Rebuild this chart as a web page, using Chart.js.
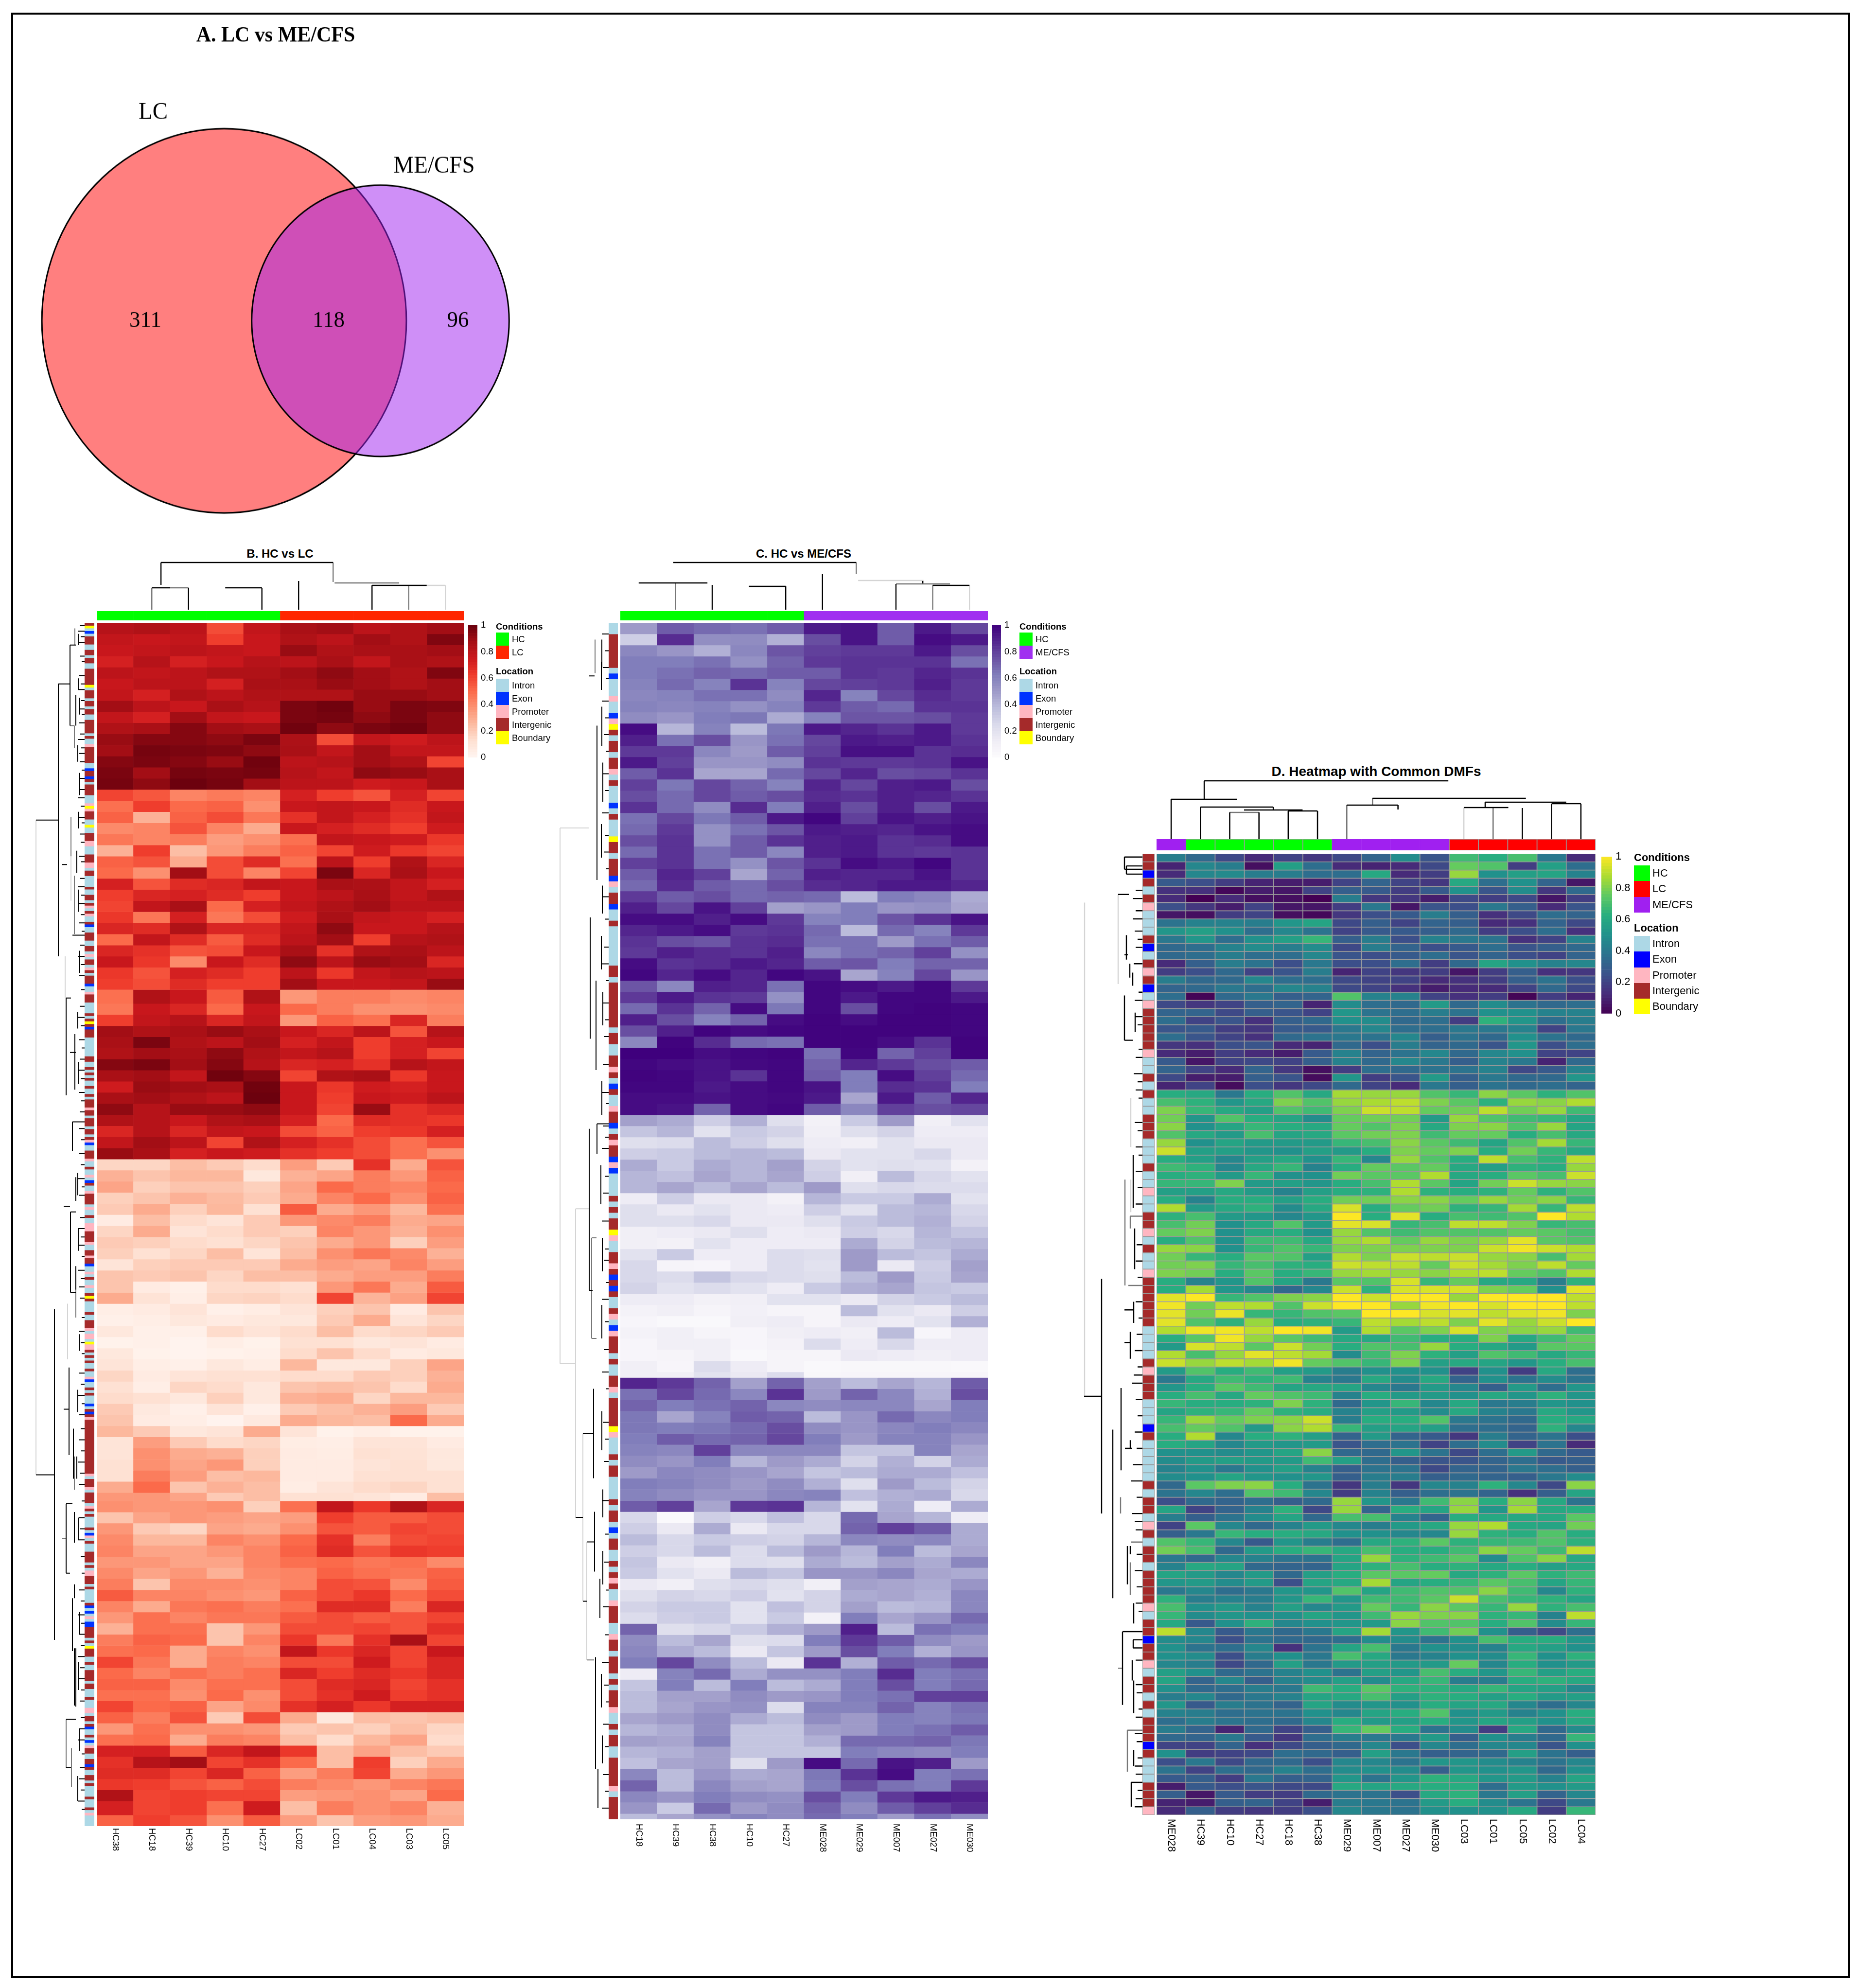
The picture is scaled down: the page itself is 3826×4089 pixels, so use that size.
<!DOCTYPE html>
<html><head><meta charset="utf-8">
<script src="https://cdn.jsdelivr.net/npm/chart.js@4/dist/chart.umd.min.js"></script>
<style>html,body{margin:0;background:#fff}body{position:relative;width:3826px;height:4089px;overflow:hidden;filter:blur(.7px)}
.t{position:absolute;white-space:nowrap;line-height:1;transform:translateY(-50%);color:#000}.s{position:absolute}canvas{position:absolute}</style>
</head><body>
<script>
// ---------- sample names ----------
const samplesB=['HC38','HC18','HC39','HC10','HC27','LC02','LC01','LC04','LC03','LC05'];
const samplesC=['HC18','HC39','HC38','HC10','HC27','ME028','ME029','ME007','ME027','ME030'];
const samplesD=['ME028','HC39','HC10','HC27','HC18','HC38','ME029','ME007','ME027','ME030','LC03','LC01','LC05','LC02','LC04'];
const colorbarTicks=[0,0.2,0.4,0.6,0.8,1];
// ---------- venn ----------
const vennNames=['LC','ME/CFS'];
const vennCounts=[311,118,96];
const vennCenterX=[461,782.5];
const vennCenterY=[626,626];
// ---------- panel B values (percent methylation, blocks of rows) ----------
const valuesB=[
[82,84,80,58,78,86,88,80,84,88],[78,76,78,62,76,84,80,88,84,95],[76,78,80,78,76,90,84,86,86,88],[72,82,72,76,82,80,86,78,86,84],
[80,78,80,84,84,88,92,88,84,95],[76,80,80,72,86,86,90,88,84,88],[78,72,84,80,84,84,84,90,90,88],[88,80,76,86,82,96,98,90,96,95],
[78,72,88,78,76,96,97,92,96,92],[84,86,94,88,86,98,92,96,98,92],[90,94,94,92,96,85,58,78,74,80],[88,97,96,95,92,86,78,88,78,78],
[94,96,94,90,98,80,82,88,84,60],[96,88,97,96,97,82,78,92,90,86],[97,92,99,97,88,80,80,74,76,86],
[60,55,42,45,42,72,62,56,72,60],[48,62,50,52,38,76,78,76,68,76],[52,28,52,58,46,66,78,72,66,78],[40,42,56,42,30,76,72,68,62,74],
[46,42,44,34,38,48,78,76,74,64],[28,62,24,36,44,52,60,74,64,60],[52,56,30,58,68,48,80,62,84,70],[50,38,88,58,42,60,96,70,86,76],
[72,56,68,70,78,76,86,85,78,72],[62,70,72,68,62,76,80,86,78,84],[60,78,86,50,72,78,84,88,80,80],[64,46,72,46,58,74,86,78,76,72],
[70,68,84,70,70,78,92,76,76,82],[50,78,68,54,68,80,88,62,82,84],[70,66,56,58,76,86,66,84,86,80],[76,64,40,76,68,92,80,90,88,70],
[64,56,72,68,62,80,64,78,82,80],[62,58,68,62,62,88,76,76,78,90],
[48,84,76,54,84,36,44,44,40,42],[46,76,70,50,76,50,44,38,38,40],[62,78,82,70,78,36,52,48,70,44],
[88,84,86,90,86,76,70,80,56,82],[86,96,84,80,88,72,78,62,72,76],[84,88,86,92,84,78,82,62,72,60],[94,96,88,94,82,70,72,66,82,78],
[86,88,78,98,94,60,84,86,64,76],[74,90,88,86,98,76,64,74,72,76],[86,88,84,80,99,76,62,76,74,80],[92,82,90,90,92,76,60,90,66,70],
[84,82,76,84,86,72,50,68,66,64],[70,82,70,78,76,58,52,62,64,72],[78,88,80,60,84,72,66,58,48,56],[90,86,72,76,74,66,62,58,48,38],
[16,16,24,20,14,34,20,66,30,56],[28,22,26,26,8,28,32,44,36,52],[32,18,22,22,18,32,50,44,42,50],[18,22,28,25,20,30,42,50,38,52],
[20,30,18,26,12,54,30,36,26,48],[6,24,14,10,20,36,40,44,30,32],[16,30,10,14,20,18,42,36,28,38],[20,18,14,12,16,22,30,36,18,34],
[18,12,16,24,10,24,38,46,40,28],[10,18,20,20,20,30,34,32,42,34],[22,20,22,16,24,24,30,34,34,44],[22,6,3,14,14,12,36,46,30,54],
[30,11,4,16,17,14,60,27,33,60],
[4,6,10,3,5,10,18,22,6,22],[3,4,8,6,8,8,20,30,10,16],[8,3,3,14,10,14,24,14,16,20],[2,3,1,4,2,12,12,8,10,6],
[8,2,1,2,3,14,22,14,6,8],[10,4,3,8,5,26,8,8,18,32],[16,6,10,12,12,14,14,20,18,28],[12,4,16,14,8,22,24,22,14,30],
[14,12,8,18,8,28,30,16,26,26],[20,7,3,10,3,20,24,28,34,20],[22,6,4,1,7,30,26,24,50,30],
[26,20,8,10,30,10,2,4,2,2],[10,34,20,14,16,5,4,10,10,6],[10,38,30,28,18,6,5,12,11,8],[12,38,32,36,18,6,6,10,12,8],
[12,44,34,24,26,6,6,12,12,12],[30,50,22,28,24,5,10,14,16,12],[36,36,32,20,24,12,12,10,6,24],
[38,36,36,38,18,48,78,64,84,70],[22,32,36,34,32,34,62,54,54,58],[36,20,16,32,30,38,56,54,60,58],[40,26,26,42,38,50,66,44,58,60],
[42,32,32,36,42,52,68,56,64,62],[36,36,32,32,42,48,50,46,48,40],[40,32,36,28,40,42,52,48,46,52],[44,22,40,40,38,42,58,56,40,54],
[54,42,42,38,36,52,58,64,50,58],[42,30,46,48,44,48,68,68,44,70],[36,48,42,46,46,54,58,54,56,60],[28,48,48,22,36,58,58,60,56,66],
[44,52,50,22,42,64,46,66,86,60],[48,50,30,42,38,78,64,70,60,76],[60,46,30,44,42,58,58,74,60,70],[50,42,48,44,48,70,62,68,64,70],
[52,52,40,48,48,58,68,70,60,66],[48,48,38,50,38,58,66,74,62,66],[60,50,52,32,40,66,72,64,72,72],
[52,44,56,20,58,30,8,24,22,24],[36,48,38,38,36,20,22,18,24,16],[48,50,30,44,42,24,14,26,32,14],[72,72,54,70,78,64,24,32,24,20],
[66,82,88,60,66,50,24,62,18,30],[68,68,60,70,52,34,44,60,30,36],[64,62,56,52,58,44,40,36,42,46],[84,60,62,60,60,34,36,38,32,50],
[72,60,62,48,74,24,44,38,42,28],[52,62,56,38,54,34,22,34,36,30]];
const spanOverridesB={33:5,78:3,106:5};
// ---------- panel C values ----------
const valuesC=[
[50,72,68,66,72,92,94,72,92,78],[30,86,55,56,42,76,94,72,96,92],[58,52,42,58,74,80,82,82,92,76],[62,62,66,54,70,82,84,84,84,66],
[62,66,70,68,72,72,84,82,88,84],[60,68,60,84,60,78,80,82,90,82],[58,60,66,66,56,88,60,78,86,82],[60,58,60,54,60,82,72,68,84,84],
[56,52,62,64,44,60,74,74,76,82],[96,40,60,38,64,92,88,84,92,82],[90,66,76,52,66,78,92,90,92,84],[82,82,58,50,72,80,95,95,84,86],
[92,80,52,52,56,84,82,82,84,94],[72,84,46,46,68,78,88,76,78,84],[80,64,78,70,60,88,78,90,92,76],[76,68,78,72,76,86,84,90,88,84],
[84,68,56,86,62,90,76,90,76,92],[66,78,64,72,92,98,80,94,90,94],[68,82,54,66,74,92,90,88,94,96],[76,84,54,72,84,90,92,84,86,96],
[68,84,66,72,58,90,92,84,82,84],[80,84,66,54,74,84,96,92,98,84],[72,88,80,46,70,90,88,88,94,84],[68,86,72,68,76,86,88,92,92,88],
[82,72,76,68,70,68,38,62,58,44],[90,78,94,80,48,52,62,52,54,46],[96,96,90,96,82,60,62,74,84,94],[88,92,96,82,84,68,38,68,60,82],
[84,76,74,84,86,66,66,50,66,72],[82,90,86,84,90,58,66,70,80,54],[96,84,86,92,88,72,74,62,70,70],[98,88,96,88,98,94,46,60,78,52],
[74,58,90,88,66,98,96,92,98,82],[82,92,84,82,54,98,92,98,98,92],[68,84,70,96,64,98,76,98,99,98],[90,76,60,70,96,99,96,99,99,98],
[76,90,99,96,98,99,99,99,99,98],[58,99,86,68,66,99,99,96,84,99],[100,100,96,98,99,66,98,70,80,99],[98,96,94,97,98,70,88,82,76,72],
[99,98,94,84,98,72,62,96,80,68],[98,98,92,96,98,94,62,86,84,62],[96,96,94,96,97,92,46,92,72,88],[96,94,70,96,98,72,58,80,76,78],
[48,44,30,42,22,9,32,50,11,20],[34,40,20,32,28,11,22,28,13,13],[22,24,38,30,22,13,11,20,15,15],[30,32,38,40,38,15,20,20,26,15],
[44,32,44,40,48,28,20,22,20,9],[40,36,46,40,46,30,11,38,26,20],[40,46,38,46,38,50,22,26,24,24],[13,30,15,15,9,40,32,32,44,20],
[22,15,20,15,13,30,20,38,40,26],[22,22,26,15,15,22,32,38,42,28],[11,13,15,22,13,15,30,26,40,34],[11,9,20,13,13,13,44,28,38,40],
[20,32,13,13,24,22,50,38,34,44],[26,6,5,13,24,20,50,15,30,48],[26,24,34,26,24,22,38,50,32,46],[28,20,24,20,13,32,42,46,34,32],
[13,13,9,11,20,20,15,28,32,38],[8,11,6,10,6,6,38,20,15,30],[5,3,3,11,13,6,15,13,20,42],[8,11,6,5,11,13,11,38,5,13],
[5,11,11,5,8,24,13,26,13,13],[5,6,11,3,6,6,15,13,11,13],[11,5,24,13,6,3,4,4,4,3],[11,11,20,15,24,4,5,5,5,5],
[88,82,70,48,70,48,38,46,40,72],[66,78,68,58,84,50,70,58,42,76],[70,62,66,70,58,56,58,58,46,62],[64,46,60,72,70,38,52,68,58,62],
[64,62,64,68,76,56,52,58,62,58],[62,72,68,70,78,62,50,60,60,52],[60,58,80,58,58,58,34,34,60,46],[56,52,62,40,50,44,28,42,28,44],
[50,58,56,52,46,34,38,44,44,36],[62,60,56,50,56,42,22,50,38,28],[60,56,52,52,58,60,36,42,44,26],
[72,80,46,82,84,40,20,44,13,44],[26,2,30,26,36,26,68,46,40,13],[30,15,44,15,26,26,70,80,72,44],[38,26,32,30,28,40,58,56,58,44],
[30,26,38,24,38,50,40,62,38,46],[34,15,11,24,22,44,38,48,44,58],[32,20,15,38,34,52,52,58,46,44],[15,11,22,26,22,11,48,46,44,52],
[22,28,26,30,20,28,44,46,42,58],[28,32,32,20,36,28,48,38,40,58],[24,30,32,20,32,9,62,46,52,68],[70,22,26,32,42,50,90,38,66,62],
[56,38,46,22,24,62,82,72,56,50],[58,44,38,15,34,50,76,62,42,52],[62,78,56,38,15,84,42,72,68,76],[13,60,68,44,54,54,62,86,62,66],
[34,62,38,62,38,44,62,76,62,68],[38,48,48,56,50,52,62,66,80,80],[38,46,52,54,24,60,60,70,60,66],[46,50,56,44,38,56,50,62,60,64],
[40,44,56,34,34,48,50,62,66,72],[48,46,60,34,34,42,68,68,70,64],[40,42,48,34,34,34,62,58,56,62],[36,46,48,22,50,96,68,94,90,50],
[58,38,52,44,46,64,84,96,62,66],[70,38,58,48,46,62,76,66,62,82],[58,52,62,56,54,76,62,82,92,90],[52,32,68,50,56,70,56,72,80,86],
[38,46,54,60,56,68,62,50,66,56]];
const spanOverridesC={67:1,107:1};
// ---------- panel D values (118 common DMFs) ----------
const valuesD=[
[42,34,22,12,20,16,22,32,48,26,68,62,70,40,12],[10,46,42,4,56,36,12,10,12,22,76,72,18,56,36],[12,46,47,42,42,36,36,60,12,18,84,50,56,58,44],
[28,24,18,10,8,8,20,32,20,16,60,36,50,32,6],[14,14,2,8,6,20,30,28,18,28,50,26,48,16,34],[12,0,12,4,4,0,42,16,16,8,22,18,22,6,18],
[24,16,8,20,6,6,18,40,6,26,24,40,30,12,26],[6,4,18,20,4,2,16,24,28,42,30,14,22,36,32],[38,44,44,42,52,58,22,30,20,32,30,12,14,32,22],
[52,56,50,36,46,38,20,28,28,30,34,18,24,36,14],[40,52,36,50,56,66,30,42,24,44,40,38,14,20,44],[34,36,44,48,42,48,22,42,32,24,28,36,26,30,34],
[34,36,42,36,36,46,26,24,28,36,26,32,24,20,32],[12,30,42,38,24,40,24,24,36,18,34,58,50,44,46],[18,24,34,20,26,42,10,20,16,18,6,18,30,14,16],
[42,34,34,46,36,36,22,20,20,12,14,18,30,38,24],[32,34,40,36,46,44,22,20,14,8,12,12,20,34,22],[36,1,34,40,30,32,72,44,44,20,14,18,1,18,10],
[22,16,20,30,32,10,48,36,34,54,34,48,38,34,36],[32,32,22,30,26,20,52,38,36,42,38,50,50,44,44],[36,20,26,14,30,34,50,48,34,36,18,64,52,36,42],
[26,28,18,16,28,28,40,46,36,36,40,40,44,20,40],[36,26,20,14,34,38,40,38,46,30,38,34,50,38,34],[16,14,24,26,12,10,34,24,42,32,34,26,52,24,36],
[12,8,18,12,8,28,44,32,38,46,34,46,50,20,20],[28,6,20,22,20,30,44,34,46,40,30,44,40,10,34],[32,20,12,32,16,4,18,36,34,38,38,44,22,28,44],
[22,8,8,30,26,3,52,18,26,54,30,40,34,34,52],[10,20,3,24,16,22,34,20,12,40,30,38,34,36,32],[62,60,40,62,72,60,86,84,84,72,66,82,74,64,72],
[70,64,52,60,80,72,84,87,90,80,74,64,84,82,88],[80,66,60,56,72,68,80,92,90,76,78,90,78,84,68],[78,52,72,62,58,48,76,78,78,54,84,72,68,66,58],
[82,50,58,66,62,60,76,72,80,60,80,82,72,84,58],[72,60,54,70,58,60,74,78,80,68,76,76,62,70,60],[84,50,58,54,54,54,66,70,82,74,68,58,72,86,66],
[92,56,56,52,50,56,54,62,80,76,80,62,78,66,60],[62,56,46,56,60,50,66,46,84,72,62,90,70,64,90],[68,64,46,60,66,44,62,76,74,76,60,56,64,62,84],
[62,64,54,66,50,50,78,74,74,88,60,62,74,70,92],[66,66,80,54,56,52,62,70,88,74,58,78,92,84,82],[56,56,60,54,44,56,62,64,88,64,62,64,76,64,72],
[62,44,62,62,56,62,78,78,82,82,76,84,78,82,66],[88,54,60,64,48,60,94,62,76,78,64,66,86,66,90],[64,70,54,52,46,52,100,62,96,62,70,68,72,100,88],
[70,78,50,60,72,54,96,94,66,70,90,90,80,66,70],[76,80,50,60,62,50,84,72,68,72,72,72,76,74,70],[62,72,50,68,68,60,84,88,76,84,80,84,96,74,72],
[84,82,50,66,72,66,80,80,80,80,80,92,98,92,88],[78,66,62,74,72,56,88,80,92,90,92,84,82,70,86],[78,80,66,70,64,62,92,90,90,76,92,86,80,90,76],
[80,78,62,74,62,66,84,86,84,82,88,90,76,72,88],[62,44,52,72,58,40,74,72,94,66,76,60,60,42,64],[62,86,52,46,34,46,92,64,94,94,94,80,76,50,96],
[96,100,66,72,80,82,100,92,100,100,84,100,100,100,90],[98,78,90,88,72,92,100,100,84,98,100,94,100,100,90],[96,78,97,66,66,72,74,100,100,94,96,90,95,98,80],
[96,72,64,84,62,64,66,90,86,90,80,96,84,92,100],[88,98,98,90,100,98,54,88,74,80,94,80,82,84,68],[62,74,98,84,74,68,60,60,68,62,62,80,60,68,76],
[54,94,90,74,92,78,62,72,70,84,62,60,54,74,74],[88,70,84,96,90,86,48,68,80,64,56,72,68,60,66],[92,84,90,86,98,76,72,66,80,56,60,58,52,62,70],
[54,72,62,68,56,54,42,50,50,50,20,50,18,60,36],[40,60,68,64,68,44,40,60,48,60,32,50,38,48,38],[52,62,74,68,58,60,58,46,40,54,46,30,54,36,52],
[62,70,60,76,72,68,44,62,54,54,50,60,52,64,52],[66,62,62,64,80,64,34,52,66,46,60,40,42,52,50],[58,64,66,76,64,62,44,56,54,48,60,44,40,60,52],
[66,84,76,80,82,92,42,62,62,72,40,38,34,62,60],[70,76,72,54,82,88,66,56,58,56,36,36,32,64,46],[62,88,46,62,64,56,32,54,32,28,16,42,32,38,24],
[62,58,46,54,52,54,26,36,38,20,36,48,20,38,12],[50,50,48,52,58,82,34,34,52,38,22,36,54,34,28],[48,54,56,54,54,68,56,36,30,26,26,32,36,28,30],
[44,50,40,50,56,44,30,38,38,22,32,32,40,36,30],[48,50,58,52,50,52,30,42,42,30,34,32,30,40,48],[34,74,80,82,62,38,16,42,16,46,44,64,46,22,82],
[38,46,36,72,68,46,18,44,30,36,38,32,14,30,58],[24,34,32,36,30,34,84,52,40,68,82,62,82,60,38],[58,20,32,44,64,22,84,32,62,58,84,52,86,60,62],
[42,30,38,48,58,34,70,70,44,32,62,60,60,60,74],[20,74,46,34,44,54,46,42,54,60,84,88,60,58,78],[30,40,66,62,62,60,50,50,46,46,84,64,62,72,62],
[72,66,46,28,52,42,36,60,64,74,64,66,68,72,64],[78,70,34,54,62,66,60,70,62,62,68,82,76,68,90],[40,34,46,44,38,38,58,84,64,68,74,48,72,82,60],
[44,60,58,34,32,32,58,64,70,62,64,60,62,56,60],[58,54,46,54,34,56,62,74,74,76,60,64,74,64,68],[52,54,48,54,24,58,60,86,58,62,66,74,70,58,66],
[40,46,36,40,52,52,72,58,68,72,72,82,68,46,64],[64,42,44,42,52,66,52,68,68,74,92,70,66,64,58],[70,50,54,44,56,46,54,76,66,82,74,66,84,64,70],
[66,48,52,50,50,58,52,68,84,80,82,64,66,44,90],[60,28,50,64,46,50,52,54,82,72,72,62,72,48,66],[90,46,28,40,34,40,58,86,52,68,78,50,30,22,36],
[48,46,24,38,34,34,36,48,48,38,50,70,62,62,52],[50,38,36,46,14,38,58,70,40,50,48,44,60,56,50],[50,48,24,42,50,40,70,60,40,44,50,48,66,50,64],
[46,42,22,34,56,40,54,56,54,54,76,46,62,50,54],[56,50,34,38,44,50,38,56,52,70,62,52,66,56,62],[58,32,46,30,44,48,56,48,60,66,42,42,62,64,60],
[50,34,36,42,40,68,62,74,64,64,60,66,58,56,46],[42,46,34,40,44,58,60,70,56,64,62,56,62,54,56],[52,28,42,38,32,58,48,52,50,62,58,60,46,36,46],
[44,42,36,38,38,50,46,58,62,72,50,54,44,50,62],[36,42,38,36,34,46,62,54,56,62,52,58,56,50,60],[42,32,10,34,20,30,66,76,62,38,48,18,60,34,48],
[34,32,40,28,16,36,42,40,40,54,30,50,42,34,66],[20,20,32,14,22,30,34,46,24,46,36,46,46,26,50],[50,18,20,22,36,34,30,56,40,30,32,34,56,38,30],
[24,40,22,34,34,24,46,46,38,52,52,48,44,38,46],[38,20,36,34,44,36,48,50,48,30,52,50,52,34,50],[28,30,18,40,30,32,52,38,52,64,60,52,54,44,58],
[8,28,24,26,22,22,60,58,60,62,62,36,54,50,54],[30,6,28,18,18,34,38,38,24,60,64,40,56,32,46],[10,8,30,32,20,8,42,40,38,54,62,48,38,22,40],
[12,30,18,16,18,24,46,40,38,50,50,50,60,18,66]];
// ---------- annotations: I intron, E exon, P promoter, G intergenic, B boundary; runs of DMF rows ----------
const locRunsB="G1 B1 I1 E1 I1 G3 I2 G2 I1 G2 I2 G6 B1 I1 G3 I1 G2 I1 G2 I2 G5 I1 G1 I2 P1 G6 I2 E1 G2 E1 G1 I1 G4 I3 P1 B1 P1 G3 I2 B1 I2 G3 P2 I3 G3 P2 I1 G2 I4 G1 I2 G2 I1 G1 P1 I1 G1 P1 I2 G1 E1 I2 G3 I2 G2 I1 P1 I1 G2 I1 P1 G1 I1 G3 E1 I2 P1 G3 I2 I2 G1 I1 G1 B1 G1 E1 G3 I7 G2 I2 G1 I1 G1 I1 G1 I2 G1 I2 G1 I1 G3 P1 G2 I1 G3 I1 G2 I1 G1 P1 E1 I2 G3 P1 I2 G1 I2 P1 I1 E1 G1 I2 P1 G4 I1 P1 I2 G1 I2 P3 G4 P1 I2 G2 P1 G2 E1 I2 P1 I1 G1 I2 P1 I1 I1 G1 B1 G1 I4 G1 I2 G3 P1 I1 P2 I1 B1 P2 G1 I1 G1 I1 G1 I2 G1 I2 P1 E1 I2 G1 I1 G1 I3 E1 I1 G1 E1 G1 P1 G20 P1 I1 G3 P1 I1 G4 I1 P1 G1 I1 G1 I4 G1 I1 E1 P1 I1 G1 I3 G4 I1 G1 I1 P2 G3 I1 G1 I5 G1 E1 I1 E1 I1 P1 I1 E2 G4 I1 G1 I1 B1 G3 I2 G1 I2 G4 I1 G2 I3 G1 I3 P2 I1 G2 I1 G1 E1 I2 G1 I1 E1 I1 P1 G2 I2 G2 E1 G1 I2 G2 I1 G1 I4 G1 I3 G1 I1 P1 I4".split(' ');
const locRunsC="I2 G6 I1 E1 I3 P1 I2 E1 P1 B1 G1 I1 G2 I1 G2 P1 I1 G1 I3 E1 I1 G1 I3 B1 G2 I1 G3 E1 P1 I1 G2 E1 I2 G1 I7 G2 I1 G8 I1 G2 I2 G2 P1 G1 I1 E1 G1 I2 P1 G2 E1 I1 G1 P1 G2 E1 P1 E1 I4 G1 I1 G1 I1 G2 B1 P1 I2 G2 P1 G1 E1 G1 E1 G1 I2 G1 P1 I1 E1 P1 G3 I1 G1 I2 G2 P1 I1 G5 B1 P1 I3 G1 I1 G2 I4 G1 I1 G2 I1 E1 I1 G2 I2 G1 I1 G1 P1 G1 I2 P1 G3 I2 P1 G2 I1 G3 I1 G1 I1 G3 P1 I2 G1 I1 G2 I2 G5 P1 I1 G4".split(' ');
const locD="G G E G I G P I I I G E I G P G E I P G G G G G P I I G I G I I G G G I I I G I I P I I G G P I G I I P G G G G G G I I I I G P G G G I I I E G I I I I I G I G G I P G I G G I G G G G P I G G E G G P I G G I G I G G G E G I I I G G G P".split(' ');
const condB=['HC','HC','HC','HC','HC','LC','LC','LC','LC','LC'];
const condC=['HC','HC','HC','HC','HC','ME/CFS','ME/CFS','ME/CFS','ME/CFS','ME/CFS'];
const condD=['ME/CFS','HC','HC','HC','HC','HC','ME/CFS','ME/CFS','ME/CFS','ME/CFS','LC','LC','LC','LC','LC'];
// ---------- column dendrograms: [col,height,col,height] ----------
const topB_black=[[1.25,97,5.94,97],[1.25,97,1.25,51],[1,45,1.5,45],[2,45,2,0],[3,45,4,45],[4,45,4,0],[5,59,5,0],[7,50,8.49,50],[7,50,7,0]];
const topB_grey=[[5.94,97,5.94,57],[5.98,55,7.74,55],[1.5,45,2,45],[1,45,1,0],[8,50,8,0]];
const topB_light=[[8.49,50,9,50],[9,50,9,0]];
const topC_black=[[.94,97,5.92,97],[0,55,1.87,55],[2,51,2,0],[3,48,4,48],[4,48,4,0],[5,73,5,0],[8,50,9,50],[7,53,7,0],[7.73,59,7.73,54]];
const topC_grey=[[5.92,97,5.92,73],[1,55,1,0],[7,53,8.47,53],[8,50,8,0]];
const topC_light=[[5.97,60,7.75,60],[9,50,9,0]];
const topD_black=[[1.13,120,9.47,120],[1.13,120,1.13,82],[0,82,2.25,82],[0,82,0,0],[1,66,3.49,66],[1,66,1,0],[3.49,66,3.49,60],[2.49,60,4.49,60],[4,58,5,58],[4,58,4,0],[5,58,5,0],[3,55,3,0],[2,55,2,0],[6.88,84,12.12,84],[6,70,7.75,70],[7.75,70,7.75,61],[10.73,76,13.5,76],[10.73,76,10.73,65],[10,65,11.52,65],[12,64,12,0],[13,73,14,73],[13,73,13,0],[14,73,14,0]];
const topD_grey=[[2,55,3,55],[6.88,84,6.88,70],[6,70,6,0],[11,65,11,0]];
const topD_light=[[10,65,10,0]];
// ---------- row dendrograms: [height,row,height,row]; twigs: [row,height] ----------
const leftB_black=[[100,306.6,62,306.6],[62,247,62,366],[100,71,54,71],[54,22,54,120],[54,22,30,22],[30,8,30,37],[30,8,18,8],[18,26,18,37],[46,87,36,87],[25,112.4,0,112.4],[38,135,38,170],[38,135,28,135],[20,148,20,168],[30,154.6,18,154.6],[25,179.6,25,190],[25,179.6,0,179.6],[43,210,30,210],[29,212,29,241],[29,212,18,212],[29,241,18,241],[18,199.5,18,208],[18,231.5,18,240],[32,268,32,299.5],[43,283,32,283],[23,290,23,308],[38,317,38,342],[38,317,25,317],[38,342,30,342],[21,320,21,331],[25,351,25,370],[21,346,21,351],[21,369,21,389.6],[18,369,18,390],[38,394.6,18,394.6],[38,412,28,412],[12,4,12,8],[12,20,12,24],[10,27,10,33],[14,44,14,50],[10,54,10,62],[13,68,13,74],[16,82,16,90],[12,96,12,104],[10,118,10,126],[14,140,14,146],[12,158,12,166],[14,198,14,206],[12,218,12,226],[11,256,11,262],[14,276,14,284],[16,300,16,308],[12,322,12,330],[10,356,10,364],[13,374,13,384],[11,398,11,406],[14,415,14,424]];
const leftB_grey=[[20,2,20,8],[30,37,21,37],[21,37,21,45],[28,70,28,84],[21,91,21,112],[46,329.5,38,329.5],[38,394.6,38,412],[27,405,27,419],[18,240,18,250],[21,300,21,312]];
const leftB_light=[[100,71,100,306.6],[40,120,40,135],[28,84,28,100],[35,245,35,265]];
const twigsB=[[1,10],[3,14],[5,8],[7,12],[12,9],[14,6],[19,12],[22,8],[24,14],[28,7],[31,10],[33,6],[36,12],[40,9],[42,14],[45,7],[47,12],[50,10],[53,6],[56,12],[60,9],[63,14],[66,8],[70,12],[72,6],[76,10],[79,8],[84,12],[86,7],[92,9],[95,14],[98,7],[101,11],[105,8],[108,12],[111,6],[116,9],[120,14],[123,8],[127,11],[132,7],[138,10],[142,14],[145,8],[150,12],[153,6],[157,10],[161,14],[164,8],[169,12],[172,7],[176,10],[182,12],[186,7],[191,12],[195,8],[200,14],[203,6],[206,12],[214,9],[218,14],[221,8],[224,12],[228,6],[233,14],[236,8],[239,12],[243,10],[250,6],[255,12],[259,8],[263,6],[270,12],[274,8],[278,14],[281,6],[285,12],[290,8],[294,12],[298,7],[302,14],[306,9],[310,12],[316,6],[322,12],[326,9],[330,14],[336,8],[342,6],[348,12],[352,8],[357,14],[360,7],[364,12],[368,8],[372,14],[376,9],[380,12],[384,7],[388,10],[394,8],[398,12],[402,14],[407,6],[412,10],[416,12],[420,8],[424,14],[427,6]];
const leftC_black=[[68,160,53,160],[53,145,31,145],[53,175,45,175],[45,164.4,29,164.4],[29,159,29,169.7],[24,18.4,24,46],[38,52.7,38,74.4],[26,64,26,80],[40,9.5,29,9.5],[15,7,15,12],[40,90.5,40,119.4],[40,119.4,33,119.4],[24,89.6,24,95],[24,89.6,0,89.6],[31,137,31,153],[27,185,27,205],[22,205,22,212],[18,171,18,178],[14,3,14,8],[14,15,14,22],[12,25,12,32],[15,36,15,42],[13,47,13,52],[15,56,15,62],[12,66,12,72],[14,82,14,88],[16,97,16,104],[13,110,13,116],[14,122,14,128],[14,141,14,148],[12,155,12,160],[12,166,12,172],[15,188,15,194],[13,199,13,204]];
const leftC_grey=[[35,110,35,128],[35,110,25,110],[35,128,25,128],[45,185.5,30,185.5],[28,3,28,9]];
const leftC_light=[[100,36.7,100,132.5],[100,36.7,41,36.7],[100,132.5,68,132.5],[68,104.8,68,160],[68,104.8,40,104.8],[53,145,53,175],[45,164.4,45,185.5]];
const twigsC=[[2,14],[5,8],[8,12],[10,6],[14,14],[17,8],[20,10],[23,6],[27,12],[30,8],[34,14],[38,8],[41,10],[44,6],[49,12],[53,8],[58,10],[61,14],[64,6],[68,12],[71,8],[74,10],[79,12],[84,14],[86,6],[90,12],[92,8],[94,14],[99,8],[102,12],[107,14],[112,8],[114,10],[118,6],[121,14],[125,8],[130,10],[134,14],[137,6],[143,12],[146,8],[150,10],[157,14],[163,8],[168,10],[173,6],[176,12],[181,8],[186,14],[190,10],[193,6],[197,12],[201,8],[206,12],[209,8],[212,14]];
const leftD_black=[[84,66.6,120,66.6],[84,52.2,84,81],[61,70.7,61,91.4],[44,65.6,44,75.7],[36,73,21,73],[25,72,25,73],[50,5,28,5],[37,17.4,37,22.9],[37,22.9,20,22.9],[15,19.5,15,21.9],[37,.4,37,1.9],[37,.4,0,.4],[37,1.9,0,1.9],[33,1.5,33,2.5],[33,1.5,0,1.5],[33,2.5,0,2.5],[33,10,33,13],[37,12.4,30,12.4],[26,13.5,26,15.2],[20,14.6,20,16.2],[19,37,19,43.5],[16,46,16,51],[18,55,18,57.6],[37,56,18,56],[25,58.7,25,62],[37,60,25,60],[41,95.5,41,104.5],[41,95.5,0,95.5],[19,96.5,19,97.5],[19,96.5,0,96.5],[19,97.5,0,97.5],[21,99,21,101.5],[18,101.5,18,105.5],[18,110,18,112],[23,114,23,117],[23,114,0,114],[25,85,25,86],[31,85,31,89.7],[18,92,18,94.5]];
const leftD_grey=[[36,40,36,53],[25,44.5,25,46],[25,44.5,0,44.5],[29,53,0,53],[31,107.6,31,112.7],[31,107.6,0,107.6],[50,100,41,100],[25,87,25,91],[23,84.5,0,84.5],[45,79,45,81]];
const leftD_light=[[119,6,119,66.6],[50,5,50,16],[24,30,24,36],[24,40,24,44]];
const twigsD=[[4.5,14],[5.5,20],[7,14],[8,20],[9.5,16],[10.5,10],[11.5,14],[13.5,18],[17,8],[18,16],[20,14],[21,10],[24,8],[25,14],[27,18],[28,10],[29,14],[30,8],[33,16],[34,10],[36,14],[37,8],[39,14],[41,10],[43,14],[48,12],[50,14],[52,10],[55,14],[57,8],[59,12],[61,16],[63,10],[64,18],[65,22],[67,14],[69,10],[71,16],[73,12],[75,20],[77,24],[79,12],[81,22],[82,16],[83,14],[86,12],[88,16],[90,12],[92,14],[93,8],[99,14],[102,14],[103,12],[105,8],[106,14],[108,16],[109,12],[111,10],[112,16],[113,14],[115,10],[116,14],[117,16]];
// ---------- colours ----------
const REDS=['#FFF5F0','#FEE0D2','#FCBBA1','#FC9272','#FB6A4A','#EF3B2C','#CB181D','#A50F15','#67000D'];
const PURPLES=['#FCFBFD','#EFEDF5','#DADAEB','#BCBDDC','#9E9AC8','#807DBA','#6A51A3','#54278F','#3F007D'];
const VIRIDIS=['#440154','#472D7B','#3B528B','#2C728E','#21918C','#28AE80','#5EC962','#ADDC30','#FDE725'];
const LOC_B={I:'#ADD8E6',E:'#0033FF',P:'#FFB6C1',G:'#A52A2A',B:'#FFFF00'};
const LOC_D={I:'#ADD8E6',E:'#0000FF',P:'#FFB6C1',G:'#A52A2A',B:'#FFFF00'};
const LOC_NAMES=[['I','Intron'],['E','Exon'],['P','Promoter'],['G','Intergenic'],['B','Boundary']];
const COND_B={HC:'#00FF00',LC:'#FF2600'},COND_C={HC:'#00FF00','ME/CFS':'#A02FF0'},COND_D={HC:'#00FF00',LC:'#FF0000','ME/CFS':'#A020F0'};
// ---------- helpers ----------
Chart.defaults.font.family="'Liberation Sans'";
const hex=h=>[1,3,5].map(i=>parseInt(h.substr(i,2),16));
const cmap=stops=>v=>{const t=Math.min(.9999,Math.max(0,v))*(stops.length-1),i=Math.floor(t),f=t-i,a=hex(stops[i]),b=hex(stops[i+1]);return`rgb(${a.map((x,k)=>Math.round(x+(b[k]-x)*f)).join(',')})`};
const base={responsive:false,animation:false,events:[],plugins:{legend:{display:false},tooltip:{enabled:false},title:{display:false}}};
function mk(x,y,w,h){const c=document.createElement('canvas');c.width=w;c.height=h;c.style.cssText=`left:${x}px;top:${y}px;width:${w}px;height:${h}px`;document.body.appendChild(c);return c.getContext('2d')}
function grid(r,cols,rowColors,spans,o={}){
  const total=spans.reduce((a,b)=>a+b,0),bw=o.border||0;
  const plugins=[];
  if(o.labels)plugins.push({id:'sampleLabels',afterDraw(ch){const c=ch.ctx,s=ch.scales.x;c.save();c.fillStyle='#000';c.font=`${o.labelSize}px 'Liberation Sans'`;c.textAlign='left';c.textBaseline='middle';
    cols.forEach((n,i)=>{c.save();c.translate(s.getPixelForValue(i),ch.chartArea.bottom+o.labelGap);c.rotate(Math.PI/2);c.fillText(n,0,0);c.restore()});c.restore()}});
  new Chart(mk(r.x,r.y,r.w,r.h+(o.labels?110:0)),{type:'bar',plugins,
    data:{labels:cols,datasets:rowColors.map((row,i)=>({label:'row'+i,data:cols.map(()=>spans[i]),backgroundColor:row,stack:'s',barPercentage:1,categoryPercentage:1,borderWidth:bw,borderColor:o.borderColors||'#999',borderSkipped:false}))},
    options:{...base,layout:{padding:{bottom:o.labels?110:0}},scales:{x:{display:false,stacked:true},y:{display:false,stacked:true,reverse:true,min:0,max:total}}}});
}
function colorbar(x,y,w,h,f,size){
  const ax=60,pad=14,steps=[];for(let v=0;v<1;v+=.02)steps.push(v);
  new Chart(mk(x,y-pad,w+ax,h+2*pad),{type:'bar',data:{labels:['scale'],datasets:steps.map(v=>({data:[.02],backgroundColor:f(v+.01),stack:'c',barPercentage:1,categoryPercentage:1}))},
    options:{...base,layout:{padding:{top:pad,bottom:pad}},scales:{x:{display:false,stacked:true},y:{stacked:true,position:'right',min:0,max:1,afterFit(s){s.width=ax},afterBuildTicks(s){s.ticks=colorbarTicks.map(value=>({value}))},grid:{display:false,drawTicks:false},border:{display:false},ticks:{padding:7,color:'#000',font:{size},callback:v=>String(+(+v).toFixed(1))}}}}});
}
const toPts=segs=>segs.flatMap(s=>[{x:s[0],y:s[1]},{x:s[2],y:s[3]},{x:null,y:null}]);
function tree(r,sets,xs,ys,lw){
  const cols=['#000','#777','#d4d4d4'];
  new Chart(mk(r.x,r.y,r.w,r.h),{type:'scatter',data:{datasets:sets.map((s,i)=>({data:toPts(s),showLine:true,pointRadius:0,borderColor:cols[i],borderWidth:lw,borderCapStyle:'butt',order:i}))},
    options:{...base,layout:{padding:0},scales:{x:{display:false,...xs},y:{display:false,...ys}}}});
}
function text(s,x,y,size,bold,anchor){const d=document.createElement('div');d.className='t';d.textContent=s;d.style.cssText=`left:${x}px;top:${y}px;font:${bold?'bold ':''}${size}px 'Liberation Sans';line-height:1;${anchor?'transform:translate(-50%,-50%)':''}`;document.body.appendChild(d)}
function legend(x,tx,y1,sw,conds,condCols,y2,sh,locCols,y3,y4,size){
  text('Conditions',x,y1,size,true);
  conds.forEach((n,i)=>{swatch(x,y2+i*sh,sw,sh,condCols[n]);text(n,tx,y2+(i+.5)*sh,size)});
  text('Location',x,y3,size,true);
  LOC_NAMES.forEach(([k,n],i)=>{swatch(x,y4+i*sh,sw,sh,locCols[k]);text(n,tx,y4+(i+.5)*sh,size)});
}
function swatch(x,y,w,h,c){const d=document.createElement('div');d.className='s';d.style.cssText=`left:${x}px;top:${y}px;width:${w}px;height:${h}px;background:${c}`;document.body.appendChild(d)}
const parseRuns=(runs,cols)=>({colors:runs.map(t=>[cols[t[0]]]),spans:runs.map(t=>+t.slice(1))});
const spansOf=(n,d,over)=>Array.from({length:n},(_,i)=>over[i]??d);
function twigSegs(t){return t.map(([r,h])=>[h,r,0,r])}
// ---------- frame ----------
const fr=document.createElement('div');fr.style.cssText='position:absolute;left:23px;top:26px;width:3782px;height:4042px;border:4px solid #000;box-sizing:border-box';document.body.appendChild(fr);
// ---------- panel A: venn ----------
(function(){
  const setTotals=[vennCounts[0]+vennCounts[1],vennCounts[1]+vennCounts[2]],k=18.1;
  const labels=[['A. LC vs ME/CFS',567,70,'bold 42px'],[vennNames[0],315,220,'47px'],[vennNames[1],893,325,'47px'],[String(vennCounts[0]),299,626,'45px'],[String(vennCounts[1]),676,626,'45px'],[String(vennCounts[2]),942,626,'45px']];
  const ctx=mk(0,0,1150,1050);ctx.canvas.style.transformOrigin='0 0';ctx.canvas.style.transform='scaleY(1.054)';
  new Chart(ctx,{type:'bubble',plugins:[{id:'vennText',afterDraw(ch){const c=ch.ctx;c.save();c.fillStyle='#000';c.textAlign='center';c.textBaseline='middle';labels.forEach(([t,x,y,f])=>{c.font=`${f} 'Liberation Serif'`;c.fillText(t,ch.scales.x.getPixelForValue(x),ch.scales.y.getPixelForValue(y))});c.restore()}}],
    data:{datasets:[
      {label:vennNames[0],order:2,data:[{x:vennCenterX[0],y:vennCenterY[0],r:k*Math.sqrt(setTotals[0])}],backgroundColor:'rgba(255,0,0,.5)',borderColor:'#000',borderWidth:3},
      {label:vennNames[1],order:1,data:[{x:vennCenterX[1],y:vennCenterY[1],r:k*Math.sqrt(setTotals[1])}],backgroundColor:'rgba(160,32,240,.5)',borderColor:'#000',borderWidth:3}]},
    options:{...base,layout:{padding:0,autoPadding:false},scales:{x:{display:false,min:0,max:1150},y:{display:false,min:0,max:1050,reverse:true}}}});
})();
// ---------- panel B ----------
(function(){
  const R=cmap(REDS),r={x:199,y:1281,w:755,h:2475},sp=spansOf(valuesB.length,4,spanOverridesB),tot=sp.reduce((a,b)=>a+b,0);
  text('B. HC vs LC',576,1139,24,true,true);
  tree({x:r.x,y:1110,w:r.w,h:144},[topB_black,topB_grey,topB_light],{min:-.5,max:samplesB.length-.5},{min:0,max:144},2.4);
  grid({x:r.x,y:1257,w:r.w,h:19},samplesB,[condB.map(c=>COND_B[c])],[1]);
  const lb=parseRuns(locRunsB,LOC_B);grid({x:174,y:r.y,w:20,h:r.h},['Location'],lb.colors,lb.spans);
  tree({x:54,y:r.y,w:120,h:r.h},[leftB_black.concat(twigSegs(twigsB)),leftB_grey,leftB_light],{min:0,max:120,reverse:true},{min:0,max:tot,reverse:true},2);
  grid(r,samplesB,valuesB.map(row=>row.map(v=>R(v/100))),sp,{labels:true,labelSize:18.5,labelGap:4});
  colorbar(963,1282,19,280,R,18.5);
  legend(1020,1053,1289,27,['HC','LC'],COND_B,1301,27,LOC_B,1381,1396,18.5);
})();
// ---------- panel C ----------
(function(){
  const P=cmap(PURPLES),r={x:1276,y:1281,w:756,h:2461},sp=spansOf(valuesC.length,2,spanOverridesC),tot=sp.reduce((a,b)=>a+b,0);
  text('C. HC vs ME/CFS',1653,1139,24,true,true);
  tree({x:r.x,y:1110,w:r.w,h:144},[topC_black,topC_grey,topC_light],{min:-.5,max:samplesC.length-.5},{min:0,max:144},2.4);
  grid({x:r.x,y:1257,w:r.w,h:19},samplesC,[condC.map(c=>COND_C[c])],[1]);
  const lb=parseRuns(locRunsC,LOC_B);grid({x:1252,y:r.y,w:19,h:r.h},['Location'],lb.colors,lb.spans);
  tree({x:1132,y:r.y,w:120,h:r.h},[leftC_black.concat(twigSegs(twigsC)),leftC_grey,leftC_light],{min:0,max:120,reverse:true},{min:0,max:tot,reverse:true},2);
  grid(r,samplesC,valuesC.map(row=>row.map(v=>P(v/100))),sp,{labels:true,labelSize:18.5,labelGap:9});
  colorbar(2040,1282,19,280,P,18.5);
  legend(2097,2130,1289,27,['HC','ME/CFS'],COND_C,1301,27,LOC_B,1381,1396,18.5);
})();
// ---------- panel D ----------
(function(){
  const V=cmap(VIRIDIS),r={x:2379,y:1756,w:903,h:1977},sp=spansOf(valuesD.length,1,{});
  text('D. Heatmap with Common DMFs',2831,1587,28,true,true);
  tree({x:r.x,y:1600,w:r.w,h:126},[topD_black,topD_grey,topD_light],{min:-.5,max:samplesD.length-.5},{min:0,max:126},2.6);
  grid({x:r.x,y:1726,w:r.w,h:23},samplesD,[condD.map(c=>COND_D[c])],[1],{border:1.2,borderColors:condD.map(c=>c==='ME/CFS'?COND_D[c]:'#999')});
  grid({x:2350,y:r.y,w:25,h:r.h},['Location'],locD.map(k=>[LOC_D[k]]),sp,{border:1.2});
  tree({x:2220,y:r.y,w:130,h:r.h},[leftD_black.concat(twigSegs(twigsD)),leftD_grey,leftD_light],{min:0,max:130,reverse:true},{min:0,max:118,reverse:true},2.4);
  grid(r,samplesD,valuesD.map(row=>row.map(v=>V(v/100))),sp,{border:1.2,labels:true,labelSize:21.5,labelGap:8});
  colorbar(3294,1756,22,335,V,22);
  legend(3361,3399,1764,33,['HC','LC','ME/CFS'],COND_D,1780,32.3,LOC_D,1909,1925,22);
})();
</script>
</body></html>
